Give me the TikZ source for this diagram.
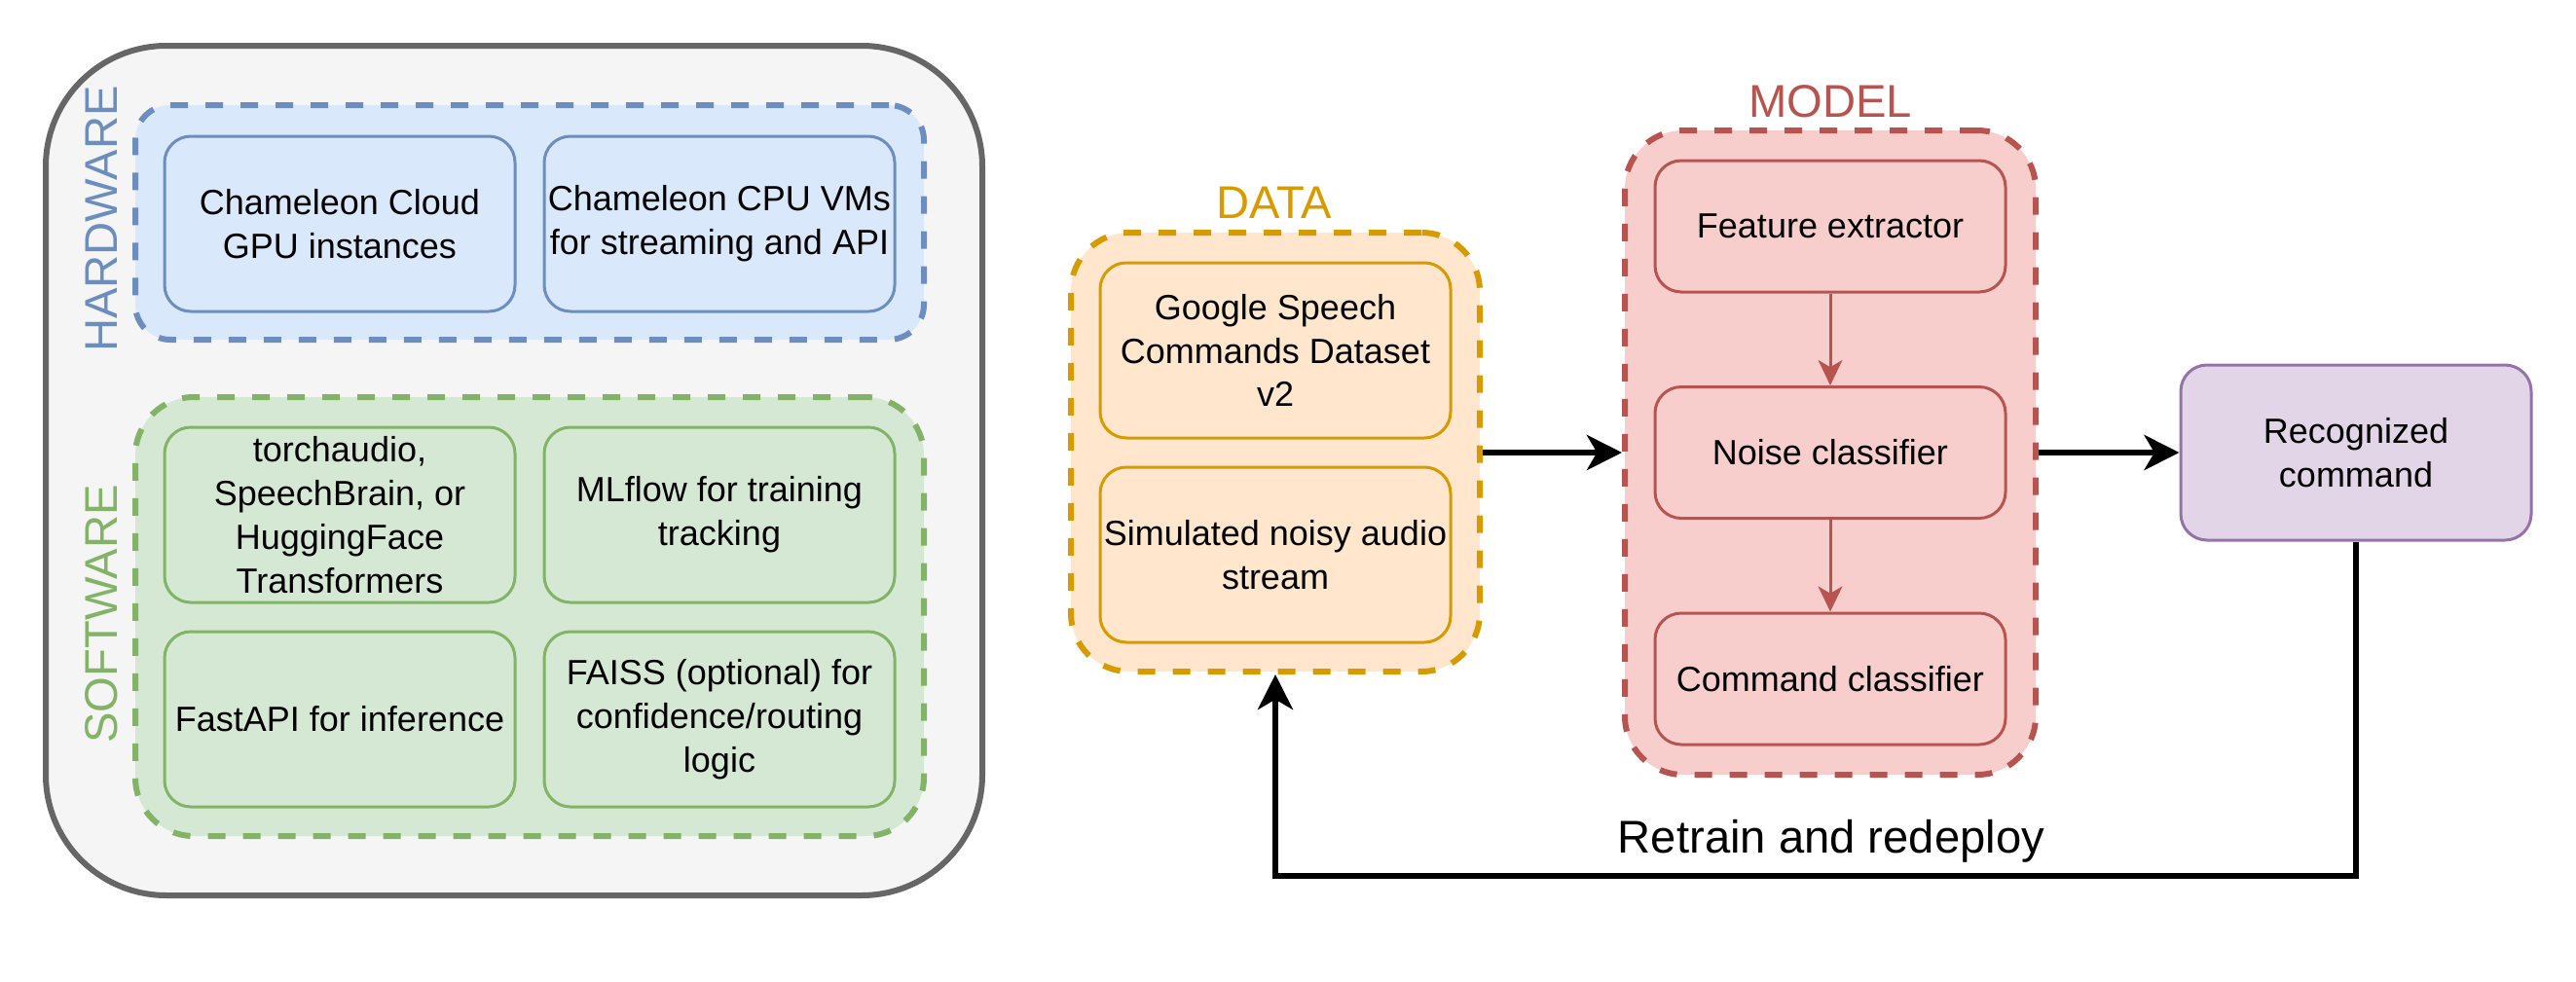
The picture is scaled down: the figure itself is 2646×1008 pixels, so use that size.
\documentclass[tikz,border=0pt]{standalone}
\usepackage{fontspec}
\setmainfont{Liberation Sans}
\usetikzlibrary{arrows.meta}
\definecolor{grayF}{HTML}{F5F5F5}
\definecolor{grayS}{HTML}{666666}
\definecolor{hwF}{HTML}{DAE8FC}
\definecolor{hwS}{HTML}{6C8EBF}
\definecolor{swF}{HTML}{D5E8D4}
\definecolor{swS}{HTML}{82B366}
\definecolor{dtF}{HTML}{FFE6CC}
\definecolor{dtS}{HTML}{D79B00}
\definecolor{mdF}{HTML}{F8CECC}
\definecolor{mdS}{HTML}{B85450}
\definecolor{rcF}{HTML}{E1D5E7}
\definecolor{rcS}{HTML}{9673A6}
\tikzset{
  box/.style={draw, rounded corners=6.75pt, line width=0.75pt, minimum width=90pt,
    minimum height=45pt, inner sep=0.5pt, align=center, font=\fontsize{9}{11.2}\selectfont},
  dashbox/.style={draw, line width=1.5pt, dash pattern=on 4.5pt off 4.5pt, inner sep=0pt},
  grplabel/.style={font=\fontsize{11.8}{14}\selectfont, inner sep=0pt},
  bigarrow/.style={draw=black, line width=1.5pt, -{Stealth[length=9pt,width=9pt,inset=2.6pt]}},
  smallarrow/.style={draw=mdS, line width=0.75pt, -{Stealth[length=6.5pt,width=6.2pt,inset=1.8pt]}}
}
\begin{document}
\begin{tikzpicture}[x=0.25pt,y=-0.25pt]
\useasboundingbox (0,0) rectangle (2646,1008);

% outer container
\node[draw=grayS, fill=grayF, line width=1.5pt, rounded corners=31pt,
  minimum width=240.5pt, minimum height=218.25pt, inner sep=0pt] (outer) at (528,483.5) {};

% hardware
\node[dashbox, draw=hwS, fill=hwF, minimum width=202.5pt, minimum height=60.25pt, rounded corners=9pt] (hw) at (544,228.5) {};
\node[box, draw=hwS, fill=hwF] (hw1) at (349,230) {Chameleon Cloud\\GPU instances};
\node[box, draw=hwS, fill=hwF] (hw2) at (739,230) {Chameleon CPU VMs\\for streaming and API};
\node[grplabel, text=hwS, rotate=90] (hwl) at (104,225) {HARDWARE};

% software
\node[dashbox, draw=swS, fill=swF, minimum width=202.5pt, minimum height=112.75pt, rounded corners=15pt] (sw) at (544,633.5) {};
\node[box, draw=swS, fill=swF] (sw1) at (349,529) {torchaudio,\\SpeechBrain, or\\HuggingFace\\Transformers};
\node[box, draw=swS, fill=swF] (sw2) at (739,529) {MLflow for training\\tracking};
\node[box, draw=swS, fill=swF] (sw3) at (349,739) {FastAPI for inference};
\node[box, draw=swS, fill=swF] (sw4) at (739,739) {FAISS (optional) for\\confidence/routing\\logic};
\node[grplabel, text=swS, rotate=90] (swl) at (104,631) {SOFTWARE};

% data
\node[dashbox, draw=dtS, fill=dtF, minimum width=105pt, minimum height=112.75pt, rounded corners=15pt] (data) at (1310,464.5) {};
\node[box, draw=dtS, fill=dtF] (d1) at (1310,360) {Google Speech\\Commands Dataset\\v2};
\node[box, draw=dtS, fill=dtF] (d2) at (1310,570) {Simulated noisy audio\\stream};
\node[grplabel, text=dtS] (dl) at (1309,208) {DATA};

% model
\node[dashbox, draw=mdS, fill=mdF, minimum width=105.5pt, minimum height=165.5pt, rounded corners=15pt] (model) at (1880,465) {};
\node[box, draw=mdS, fill=mdF, minimum height=33.75pt] (m1) at (1880,232.5) {Feature extractor};
\node[box, draw=mdS, fill=mdF, minimum height=33.75pt] (m2) at (1880,465) {Noise classifier};
\node[box, draw=mdS, fill=mdF, minimum height=33.75pt] (m3) at (1880,697.5) {Command classifier};
\node[grplabel, text=mdS] (ml) at (1880,104) {MODEL};

% recognized
\node[box, draw=rcS, fill=rcF] (rec) at (2420,465) {Recognized\\command};

% arrows
\draw[smallarrow] (m1) -- (m2);
\draw[smallarrow] (m2) -- (m3);
\draw[bigarrow] (data.east |- m2) -- (model.west |- m2);
\draw[bigarrow] (model.east |- rec) -- (rec.west);
\coordinate (fb) at (1880,900);
\draw[bigarrow] (rec.south) |- (fb) -| (data.south);
\node[grplabel] (rt) at (1881,864) {Retrain and redeploy};
\end{tikzpicture}
\end{document}
